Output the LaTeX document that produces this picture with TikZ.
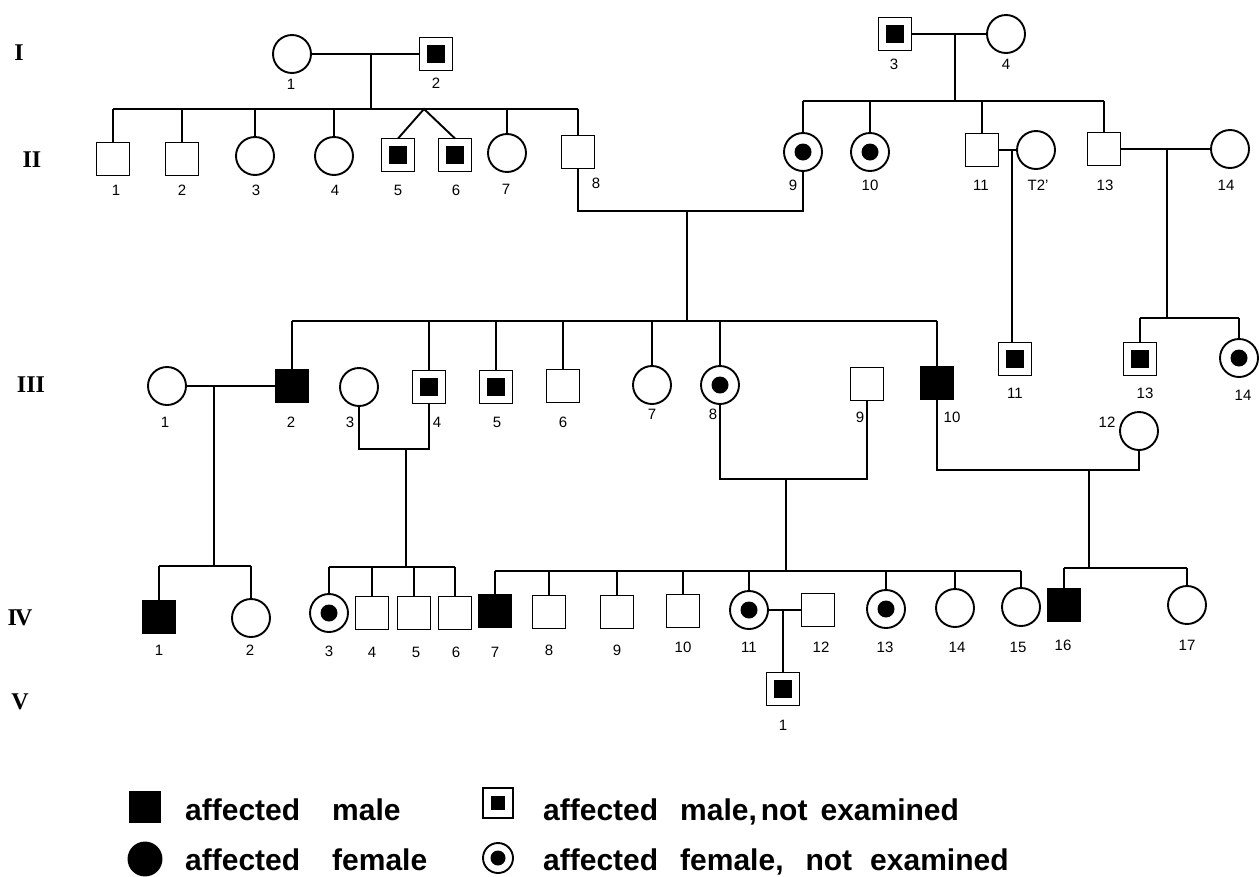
\documentclass[tikz,border=0pt]{standalone}
\usepackage{fontspec}
\setmainfont{Liberation Sans}
\newfontfamily\romfont{Liberation Serif}
\begin{document}
\begin{tikzpicture}[x=1pt,y=-1pt,
  person/.style={draw,line width=1.9pt,inner sep=0pt,outer sep=0pt},
  male/.style={person,rectangle,minimum size=33pt},
  female/.style={person,circle,minimum size=38pt},
  amale/.style={male,fill=black},
  afemale/.style={female,fill=black},
  nmale/.style={male,path picture={\fill (path picture bounding box.center) ++(-9pt,-9pt) rectangle ++(18pt,18pt);}},
  nmalesmall/.style={male,minimum size=30pt,path picture={\fill (path picture bounding box.center) ++(-7pt,-7pt) rectangle ++(14pt,14pt);}},
  nfemale/.style={female,path picture={\fill (path picture bounding box.center) circle[radius=8.5pt];}},
  nfemalesmall/.style={female,minimum size=30pt,path picture={\fill (path picture bounding box.center) circle[radius=7.5pt];}},
  lab/.style={font=\fontsize{15}{15}\selectfont,inner sep=0pt},
  gen/.style={font=\romfont\bfseries\fontsize{24}{24}\selectfont,inner sep=0pt},
  link/.style={line width=1.9pt},
  thicklink/.style={line width=2.6pt},
  leg/.style={font=\bfseries\fontsize{30}{30}\selectfont,inner sep=0pt,anchor=base west}
]
\useasboundingbox[fill=white] (0,0) rectangle (1259,876);

% generation numerals
\node[gen] (gI) at (19,53) {I};
\node[gen] (gII) at (32,160) {II};
\node[gen] (gIII) at (31,385) {III};
\node[gen] (gIV) at (20,618) {I\kern-2pt V};
\node[gen] (gV) at (20,702) {V};

% ---------- generation I ----------
\node[female] (i1) at (292,54) {};
\node[nmale] (i2) at (436,54) {};
\node[nmale] (i3) at (895,34) {};
\node[female] (i4) at (1006,34) {};
\node[lab] (li1) at (291,84) {1};
\node[lab] (li2) at (436,83) {2};
\node[lab] (li3) at (894,64) {3};
\node[lab] (li4) at (1006,64) {4};

% ---------- generation II ----------
\node[male] (ii1) at (113,159) {};
\node[male] (ii2) at (182,159) {};
\node[female] (ii3) at (255,156) {};
\node[female] (ii4) at (334,156) {};
\node[nmale] (ii5) at (398,155) {};
\node[nmale] (ii6) at (455,155) {};
\node[female] (ii7) at (507,153) {};
\node[male] (ii8) at (578,152) {};
\node[nfemale] (ii9) at (803,152) {};
\node[nfemale] (ii10) at (870,152) {};
\node[male] (ii11) at (982,150) {};
\node[female] (ii12) at (1036,150) {};
\node[male] (ii13) at (1104,149) {};
\node[female] (ii14) at (1230,149) {};
\node[lab] (lii1) at (116,190) {1};
\node[lab] (lii2) at (182,190) {2};
\node[lab] (lii3) at (256,190) {3};
\node[lab] (lii4) at (335,190) {4};
\node[lab] (lii5) at (398,190) {5};
\node[lab] (lii6) at (456,190) {6};
\node[lab] (lii7) at (506,189) {7};
\node[lab] (lii8) at (596,183) {8};
\node[lab] (lii9) at (793,185) {9};
\node[lab] (lii10) at (870,185) {10};
\node[lab] (lii11) at (981,185) {11};
\node[lab] (lii12) at (1038,185) {T2'};
\node[lab] (lii13) at (1105,185) {13};
\node[lab] (lii14) at (1226,185) {14};

% I-1 x I-2
\coordinate (u12) at (371,54);
\coordinate (s2) at (371,109);
\draw[link] (i1) -- (i2);
\draw[link] (u12) -- (s2);
\draw[link] (ii1 |- s2) -- (ii8 |- s2);
\foreach \n in {ii1,ii2,ii3,ii4,ii7,ii8} \draw[link] (\n |- s2) -- (\n);
\coordinate (tw) at (424,109);
\draw[link] (ii5.north) -- (tw) -- (ii6.north);

% I-3 x I-4
\coordinate (u34) at (955,34);
\coordinate (s2b) at (955,101);
\draw[link] (i3) -- (i4);
\draw[link] (u34) -- (s2b);
\draw[link] (ii9 |- s2b) -- (ii13 |- s2b);
\foreach \n in {ii9,ii10,ii11,ii13} \draw[link] (\n |- s2b) -- (\n);

% ---------- generation III ----------
\node[female] (iii1) at (167,386) {};
\node[amale] (iii2) at (292,386) {};
\node[female] (iii3) at (359,387) {};
\node[nmale] (iii4) at (429,387) {};
\node[nmale] (iii5) at (496,387) {};
\node[male] (iii6) at (563,386) {};
\node[female] (iii7) at (652,385) {};
\node[nfemale] (iii8) at (720,385) {};
\node[male] (iii9) at (867,384) {};
\node[amale] (iii10) at (937,383) {};
\node[nmale] (iii11) at (1015,359) {};
\node[female] (iii12) at (1139,431) {};
\node[nmale] (iii13) at (1140,359) {};
\node[nfemale] (iii14) at (1239,358) {};
\node[lab] (liii1) at (165,422) {1};
\node[lab] (liii2) at (291,422) {2};
\node[lab] (liii3) at (350,422) {3};
\node[lab] (liii4) at (437,422) {4};
\node[lab] (liii5) at (497,422) {5};
\node[lab] (liii6) at (563,422) {6};
\node[lab] (liii7) at (652,414) {7};
\node[lab] (liii8) at (713,414) {8};
\node[lab] (liii9) at (860,417) {9};
\node[lab] (liii10) at (952,417) {10};
\node[lab] (liii11) at (1015,393) {11};
\node[lab] (liii12) at (1107,422) {12};
\node[lab] (liii13) at (1145,393) {13};
\node[lab] (liii14) at (1243,395) {14};

% II-8 x II-9
\coordinate (m89) at (687,211);
\coordinate (s3) at (687,321);
\draw[thicklink] (ii8) |- (m89) -| (ii9);
\draw[link] (m89) -- (s3);
\draw[link] (iii2 |- s3) -- (iii10 |- s3);
\foreach \n in {iii2,iii4,iii5,iii6,iii7,iii8,iii10} \draw[link] (\n |- s3) -- (\n);

% II-11 x II-12
\coordinate (u1112) at (1012,150);
\draw[link] (ii11) -- (ii12);
\draw[link] (u1112) -- (u1112 |- iii11.north);

% II-13 x II-14
\coordinate (u1314) at (1167,149);
\coordinate (s3b) at (1167,318);
\draw[link] (ii13) -- (ii14);
\draw[link] (u1314) -- (s3b);
\draw[link] (iii13 |- s3b) -- (iii14 |- s3b);
\foreach \n in {iii13,iii14} \draw[link] (\n |- s3b) -- (\n);

% ---------- generation IV ----------
\node[amale] (iv1) at (159,617) {};
\node[female] (iv2) at (251,618) {};
\node[nfemale] (iv3) at (329,613) {};
\node[male] (iv4) at (372,613) {};
\node[male] (iv5) at (414,613) {};
\node[male] (iv6) at (455,613) {};
\node[amale] (iv7) at (495,611) {};
\node[male] (iv8) at (549,612) {};
\node[male] (iv9) at (617,612) {};
\node[male] (iv10) at (683,611) {};
\node[nfemale] (iv11) at (749,610) {};
\node[male] (iv12) at (818,610) {};
\node[nfemale] (iv13) at (886,609) {};
\node[female] (iv14) at (955,608) {};
\node[female] (iv15) at (1021,607) {};
\node[amale] (iv16) at (1064,605) {};
\node[female] (iv17) at (1187,605) {};
\node[lab] (liv1) at (159,650) {1};
\node[lab] (liv2) at (250,650) {2};
\node[lab] (liv3) at (329,651) {3};
\node[lab] (liv4) at (372,652) {4};
\node[lab] (liv5) at (416,652) {5};
\node[lab] (liv6) at (456,652) {6};
\node[lab] (liv7) at (495,652) {7};
\node[lab] (liv8) at (549,650) {8};
\node[lab] (liv9) at (617,650) {9};
\node[lab] (liv10) at (683,647) {10};
\node[lab] (liv11) at (749,647) {11};
\node[lab] (liv12) at (821,647) {12};
\node[lab] (liv13) at (885,647) {13};
\node[lab] (liv14) at (957,647) {14};
\node[lab] (liv15) at (1018,647) {15};
\node[lab] (liv16) at (1063,645) {16};
\node[lab] (liv17) at (1187,645) {17};

% III-1 x III-2
\coordinate (u3a) at (214,386);
\coordinate (s4a) at (214,566);
\draw[link] (iii1) -- (iii2);
\draw[thicklink] (u3a) -- (s4a);
\draw[link] (iv1 |- s4a) -- (iv2 |- s4a);
\foreach \n in {iv1,iv2} \draw[link] (\n |- s4a) -- (\n);

% III-3 x III-4
\coordinate (m34) at (406,449);
\coordinate (s4b) at (406,567);
\draw[link] (iii3) |- (m34) -| (iii4);
\draw[thicklink] (m34) -- (s4b);
\draw[thicklink] (iv3 |- s4b) -- (iv6 |- s4b);
\foreach \n in {iv3,iv4,iv5,iv6} \draw[link] (\n |- s4b) -- (\n);

% III-8 x III-9
\coordinate (m89b) at (786,479);
\coordinate (s4c) at (786,571);
\draw[link] (iii8) |- (m89b) -| (iii9);
\draw[link] (m89b) -- (s4c);
\draw[thicklink] (iv7 |- s4c) -- (iv15 |- s4c);
\foreach \n in {iv7,iv8,iv9,iv10,iv11,iv13,iv14,iv15} \draw[link] (\n |- s4c) -- (\n);

% III-10 x III-12
\coordinate (m1012) at (1089,470);
\coordinate (s4d) at (1089,568);
\draw[link] (iii10) |- (m1012) -| (iii12);
\draw[link] (m1012) -- (s4d);
\draw[link] (iv16 |- s4d) -- (iv17 |- s4d);
\foreach \n in {iv16,iv17} \draw[link] (\n |- s4d) -- (\n);

% ---------- generation V ----------
\node[nmale] (v1) at (783,689) {};
\node[lab] (lv1) at (783,725) {1};
\coordinate (u1112b) at (783,610);
\draw[link] (iv11) -- (iv12);
\draw[link] (u1112b) -- (v1);

% ---------- legend ----------
\node[amale,minimum size=31pt] (k1) at (145,807) {};
\node[afemale,minimum size=33pt] (k2) at (145,859) {};
\node[nmalesmall] (k3) at (498,803) {};
\node[nfemalesmall] (k4) at (498,858) {};
\node[leg] (k1t) at (185,820) {affected\hspace{32pt}male};
\node[leg] (k2t) at (185,870) {affected\hspace{32pt}female};
\node[leg] (k3t) at (543,820) {affected\hspace{22pt}male,\hspace{4pt}not\hspace{13pt}examined};
\node[leg] (k4t) at (543,870) {affected\hspace{22pt}female,\hspace{22pt}not\hspace{18pt}examined};
\end{tikzpicture}
\end{document}
